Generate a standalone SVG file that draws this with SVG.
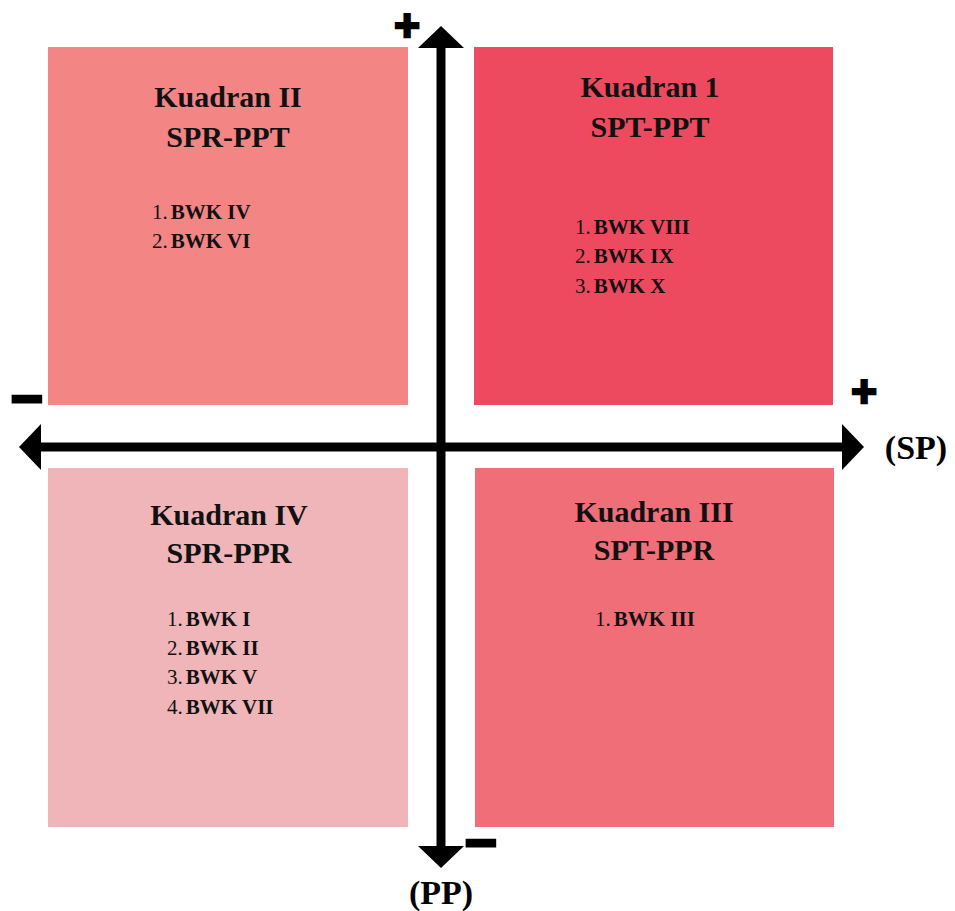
<svg xmlns="http://www.w3.org/2000/svg" width="955" height="911" viewBox="0 0 955 911">
<style>
.title{font-family:"Liberation Serif","Times New Roman",serif;font-weight:bold;font-size:30px;fill:#111;text-anchor:middle}
.item{font-family:"Liberation Serif","Times New Roman",serif;font-size:21px;fill:#111}
.item .b{font-weight:bold}
.axis{stroke:#000;stroke-width:9;fill:none}
.lbl{font-family:"Liberation Serif","Times New Roman",serif;font-weight:bold;font-size:34px;fill:#000;text-anchor:middle}
.sign{font-family:"Liberation Sans",Arial,sans-serif;font-weight:bold;font-size:44px;fill:#000;stroke:#000;stroke-width:2.5;text-anchor:middle}
.minus{font-family:"Liberation Sans",Arial,sans-serif;font-weight:bold;font-size:56px;fill:#000;stroke:#000;stroke-width:2.5;text-anchor:middle}
</style>
<defs>
<marker id="ah" markerUnits="userSpaceOnUse" markerWidth="23" markerHeight="46" refX="0" refY="23" orient="auto-start-reverse">
<path d="M0,0 L22,23 L0,46 Z" fill="#000"/>
</marker>
</defs>
<rect width="955" height="911" fill="#fff"/>
<g id="q2">
<rect x="48" y="47" width="360" height="358" fill="#f38585"/>
<text class="title" x="228" y="107">Kuadran II</text>
<text class="title" x="228" y="147">SPR-PPT</text>
<text class="item" x="152" y="219">1.<tspan class="b" dx="3">BWK IV</tspan></text>
<text class="item" x="152" y="248">2.<tspan class="b" dx="3">BWK VI</tspan></text>
</g>
<g id="q1">
<rect x="474" y="47" width="359" height="358" fill="#ee4a5f"/>
<text class="title" x="650" y="97">Kuadran 1</text>
<text class="title" x="650" y="137">SPT-PPT</text>
<text class="item" x="575" y="234">1.<tspan class="b" dx="3">BWK VIII</tspan></text>
<text class="item" x="575" y="263">2.<tspan class="b" dx="3">BWK IX</tspan></text>
<text class="item" x="575" y="293">3.<tspan class="b" dx="3">BWK X</tspan></text>
</g>
<g id="q4">
<rect x="48" y="468" width="360" height="359" fill="#f0b5b8"/>
<text class="title" x="229" y="525">Kuadran IV</text>
<text class="title" x="229" y="563">SPR-PPR</text>
<text class="item" x="167" y="626">1.<tspan class="b" dx="3">BWK I</tspan></text>
<text class="item" x="167" y="655">2.<tspan class="b" dx="3">BWK II</tspan></text>
<text class="item" x="167" y="684">3.<tspan class="b" dx="3">BWK V</tspan></text>
<text class="item" x="167" y="714">4.<tspan class="b" dx="3">BWK VII</tspan></text>
</g>
<g id="q3">
<rect x="475" y="468" width="359" height="359" fill="#ef6e78"/>
<text class="title" x="654" y="522">Kuadran III</text>
<text class="title" x="654" y="560">SPT-PPR</text>
<text class="item" x="595" y="626">1.<tspan class="b" dx="3">BWK III</tspan></text>
</g>
<g id="connectors">
<line class="axis" x1="41" y1="447" x2="842" y2="447" marker-start="url(#ah)" marker-end="url(#ah)"/>
<line class="axis" x1="441" y1="48" x2="441" y2="846" marker-start="url(#ah)" marker-end="url(#ah)"/>
</g>
<g id="labels">
<text class="sign" x="407" y="41">+</text>
<text class="sign" x="864" y="407">+</text>
<text class="minus" x="27" y="418">−</text>
<text class="minus" x="481" y="862">−</text>
<text class="lbl" x="916" y="459">(SP)</text>
<text class="lbl" x="441" y="904">(PP)</text>
</g>
</svg>
